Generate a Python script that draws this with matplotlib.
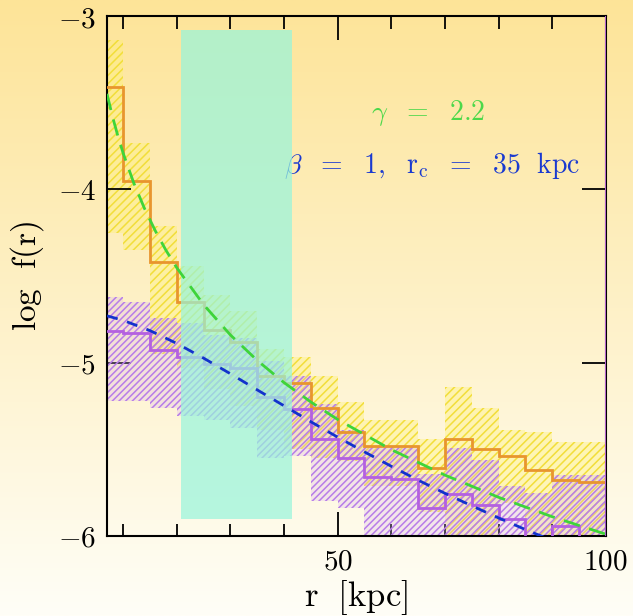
#!/usr/bin/env python3
import numpy as np
import matplotlib

matplotlib.use("Agg")
import matplotlib.pyplot as plt

plt.rcParams["mathtext.fontset"] = "cm"
plt.rcParams["font.family"] = "serif"
plt.rcParams["hatch.linewidth"] = 1.1

# bin edges [kpc]
edges = [5, 10, 15, 20, 25, 30, 35, 40, 45, 50, 55, 60, 65, 70, 75, 80, 85, 90, 95, 100]

# orange histogram and its (yellow) error band
orange_vals = [-3.41, -3.95, -4.42, -4.65, -4.81, -4.88, -5.08, -5.12, -5.26, -5.40,
               -5.48, -5.48, -5.61, -5.44, -5.50, -5.54, -5.62, -5.68, -5.69]
yellow_hi = [-3.14, -3.73, -4.21, -4.44, -4.61, -4.70, -4.92, -4.97, -5.08, -5.23,
             -5.33, -5.33, -5.44, -5.14, -5.26, -5.39, -5.40, -5.46, -5.46]
yellow_lo = [-4.25, -4.35, -4.95, -5.03, -5.15, -5.25, -5.39, -5.50, -5.55, -5.57,
             -5.71, -5.71, -5.86, -6.10, -6.10, -5.81, -6.10, -6.10, -6.10]

# purple histogram and its error band
purple_vals = [-4.82, -4.83, -4.93, -4.97, -5.01, -5.03, -5.20, -5.27, -5.44, -5.55,
               -5.66, -5.67, -5.84, -5.76, -5.82, -5.90, -6.10, -5.94, -6.10]
purple_hi = [-4.62, -4.65, -4.74, -4.77, -4.84, -4.86, -4.99, -5.08, -5.24, -5.39,
             -5.48, -5.48, -5.64, -5.49, -5.56, -5.71, -5.75, -5.65, -5.65]
purple_lo = [-5.22, -5.22, -5.26, -5.31, -5.33, -5.38, -5.55, -5.54, -5.80, -5.84,
             -6.10, -6.10, -6.10, -6.10, -6.10, -6.10, -6.10, -6.10, -6.10]

# model curves
green_r = [7, 8, 9, 10, 12, 14, 16, 18, 20, 25, 30, 35, 40, 45, 50, 60, 70, 80, 90, 100]
green_f = [-3.449, -3.577, -3.689, -3.790, -3.964, -4.111, -4.239, -4.352, -4.452, -4.665,
           -4.840, -4.987, -5.115, -5.227, -5.328, -5.502, -5.649, -5.777, -5.889, -5.990]
blue_r = [7, 10, 15, 20, 25, 30, 35, 40, 45, 50, 55, 60, 65, 70, 75, 80, 85, 90]
blue_f = [-4.730, -4.756, -4.815, -4.889, -4.974, -5.064, -5.157, -5.249, -5.341, -5.430,
          -5.515, -5.598, -5.678, -5.754, -5.826, -5.896, -5.963, -6.027]

# highlighted radial range
box_x = [20.8, 41.5]
box_y = [-5.90, -3.08]

xticks_major = [50, 100]
xticks_minor = [10, 20, 30, 40, 60, 70, 80, 90]
yticks = [-6, -5, -4, -3]
ytick_labels = [r"$-6$", r"$-5$", r"$-4$", r"$-3$"]


def main() -> None:
    fig = plt.figure(figsize=(6.33, 6.16), dpi=100)

    # background gradient
    bg = fig.add_axes([0, 0, 1, 1], zorder=-10)
    top = np.array([253, 228, 152]) / 255
    bot = np.array([255, 254, 247]) / 255
    t = np.linspace(0, 1, 256)[:, None]
    grad = top * (1 - t) + bot * t
    bg.imshow(grad[:, None, :].repeat(2, axis=1), aspect="auto", extent=[0, 1, 0, 1])
    bg.axis("off")

    ax = fig.add_axes([0.169, 0.130, 0.788, 0.844])
    ax.set_facecolor("none")

    ax.stairs(yellow_hi, edges, baseline=yellow_lo, fill=True,
              facecolor=(1.0, 0.95, 0.45, 0.38), edgecolor="#F2DE3A", hatch="////",
              linewidth=0, zorder=1)
    ax.stairs(purple_hi, edges, baseline=purple_lo, fill=True,
              facecolor=(0.85, 0.70, 0.95, 0.28), edgecolor="#B77DE8", hatch="/////",
              linewidth=0, zorder=2)

    ax.stairs(orange_vals, edges, color="#E8952E", linewidth=2.0, zorder=3)
    ax.stairs(purple_vals, edges, color="#B460E0", linewidth=2.0, zorder=3)

    ax.fill_between(box_x, box_y[0], box_y[1], color="#96F5DC", alpha=0.7,
                    linewidth=0, zorder=4)

    ax.plot(green_r, green_f, color="#3ED43A", linewidth=2.0, dashes=(6, 3.5), zorder=5)
    ax.plot(blue_r, blue_f, color="#1232CC", linewidth=2.0, dashes=(4, 3.5), zorder=5)

    ax.text(66.9, -3.56, r"$\gamma\ \ =\ \ 2.2$", color="#4CD84A", fontsize=20,
            ha="center", va="center")
    ax.text(67.6, -3.86, r"$\beta\ \ =\ \ 1,\ \ \mathrm{r_c}\ \ =\ \ 35\ \ \mathrm{kpc}$",
            color="#1A3AD0", fontsize=20, ha="center", va="center")

    ax.set_xlim(7, 100)
    ax.set_ylim(-6, -3)
    ax.set_xticks(xticks_major)
    ax.set_xticklabels([rf"${v}$" for v in xticks_major])
    ax.set_xticks(xticks_minor, minor=True)
    ax.set_yticks(yticks)
    ax.set_yticklabels(ytick_labels)
    ax.tick_params(which="both", direction="in", top=True, right=True,
                   labelsize=21, width=1.3, colors="black")
    ax.tick_params(which="major", length=17, pad=8)
    ax.tick_params(which="minor", length=9)
    for sp in ax.spines.values():
        sp.set_linewidth(1.5)

    ax.set_xlabel(r"$\mathrm{r\ \ [kpc]}$", fontsize=25, labelpad=2)
    ax.set_ylabel(r"$\mathrm{log\ \ f(r)}$", fontsize=24, labelpad=8)

    fig.savefig("out.png", dpi=100)
    plt.close(fig)


if __name__ == "__main__":
    main()
